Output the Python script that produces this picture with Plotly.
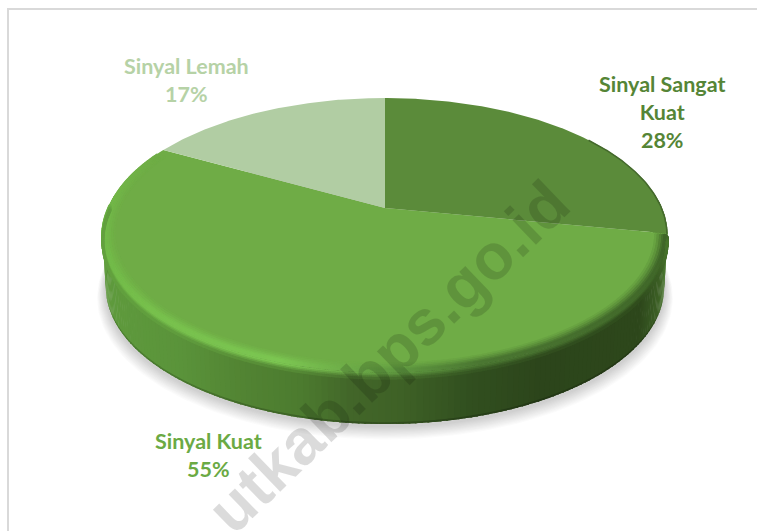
import numpy as np
import plotly.graph_objects as go

# ---- data ----
categories = ["Sinyal Sangat Kuat", "Sinyal Kuat", "Sinyal Lemah"]
values = [28, 55, 17]
slice_colors = ["#5B8B3A", "#6FAC46", "#B1CDA3"]
label_colors = ["#558536", "#6BAA44", "#B6D2A6"]
label_text = ["Sinyal Sangat<br>Kuat<br>28%", "Sinyal Kuat<br>55%", "Sinyal Lemah<br>17%"]
label_x = [662, 208, 186]
label_y = [112, 455, 80]
watermark = "utkab.bps.go.id"

# ---- perspective disc model (axes are in picture units) ----
CX, CY, AX, K, P, DEPTH = 385.0, 208.0, 277.0, 131.7, 0.197, 52.0


def project(theta_deg, r=1.0, z=0.0):
    t = np.radians(theta_deg)
    u, v = r * np.sin(t), r * np.cos(t)
    d = 1 + P * v
    x = CX + (1 - 0.012 * z) * AX * u / d
    y = CY - K * v / d + DEPTH * z
    return x, y


def hex2rgb(h):
    return np.array([int(h[i:i + 2], 16) for i in (1, 3, 5)], float)


def ramp(x, xs, cols):
    arr = np.array([hex2rgb(c) for c in cols])
    return np.stack([np.interp(x, xs, arr[:, i]) for i in range(3)], axis=-1)


def css(rgb):
    return "rgb(%d,%d,%d)" % tuple(int(round(c)) for c in rgb)


rim_xs = [102, 180, 240, 300, 350, 400, 470, 540, 640, 660, 668]
rim_cs = ["#5F9B3D", "#5A933A", "#528433", "#4C7B2F", "#426629", "#3E6126",
          "#314F1F", "#2C451B", "#2D471B", "#3C5F25", "#4A7A2E"]
peak_xs = [102, 150, 280, 340, 400, 480, 668]
peak_cs = ["#72BA49", "#78C04D", "#7CC652", "#70B04A", "#5F9840", "#4B7732", "#41682A"]

fig = go.Figure()


def poly(x, y, color, line=None, opacity=1.0):
    fig.add_trace(go.Scatter(
        x=x, y=y, mode="lines", fill="toself", fillcolor=color, opacity=opacity,
        line=dict(color=line or color, width=1 if line else 0),
        hoverinfo="skip", showlegend=False))


# soft shadow under the disc
th = np.linspace(0, 360, 241)
for grow in range(12, 0, -1):
    sx, sy = project(th, 1.0 + grow * 0.0025, 1.0)
    poly(sx, sy + 2 + grow * 0.6, "rgba(90,90,90,0.022)")

# side wall, strip by strip with a horizontal gradient
edges = np.linspace(84, 276, 181)
for a, b in zip(edges[:-1], edges[1:]):
    ang = np.linspace(a, b + 0.3, 3)
    x0, y0 = project(ang, 1.0, 0.0)
    x1, y1 = project(ang[::-1], 1.0, 1.0)
    c = ramp(x0.mean(), rim_xs, rim_cs)
    poly(np.r_[x0, x1], np.r_[y0, y1], css(c))
    xl, yl = project(ang, 1.0, 0.965)
    poly(np.r_[xl, x1], np.r_[yl, y1], css(c * 0.8))

# the three top faces, from the values
total = sum(values)
start = 0.0
for val, col in zip(values, slice_colors):
    end = start + 360.0 * val / total
    ang = np.linspace(start, end, max(int(end - start) * 2, 8))
    x, y = project(ang)
    poly(np.r_[CX, x, CX], np.r_[CY, y, CY], col)
    start = end

# bevel between face and wall
face = hex2rgb(slice_colors[1])
layers = [(0.960, 0.0, 0.15), (0.968, 0.0, 0.35), (0.976, 0.0, 0.6), (0.984, 0.0, 0.85),
          (0.990, 0.0, 1.0), (0.995, 0.0, 1.0), (1.0, 0.03, 1.0), (1.0, 0.06, 0.75),
          (1.0, 0.09, 0.45), (1.0, 0.12, 0.2)]
ang_all = np.linspace(101.5, 296, 620)
bx, by, bc = [], [], []
for r, z, w in layers:
    ang = ang_all if z == 0 else ang_all[ang_all < 272]
    fade = np.clip((296 - ang) / 35, 0, 1)
    x, y = project(ang, r, z)
    pk = ramp(x, peak_xs, peak_cs)
    if z == 0:
        col = face + (pk - face) * (w * fade)[:, None]
    else:
        rim = ramp(x, rim_xs, rim_cs)
        col = rim + (pk - rim) * (w * fade)[:, None]
    bx.extend(x)
    by.extend(y)
    bc.extend(css(c) for c in col)
fig.add_trace(go.Scatter(x=bx, y=by, mode="markers", hoverinfo="skip", showlegend=False,
                         marker=dict(size=3, color=bc, line=dict(width=0))))

# darker rim on the right of the dark slice
ang = np.linspace(55, 101, 80)
ex, ey = project(ang, 0.998)
fig.add_trace(go.Scatter(x=ex, y=ey, mode="lines", hoverinfo="skip", showlegend=False,
                         line=dict(color="#44692C", width=1.5)))

annotations = [dict(x=x, y=y, text=t, showarrow=False, xanchor="center", yanchor="middle",
                    font=dict(family="Lato", size=21.5, color=c, weight="bold"))
               for x, y, t, c in zip(label_x, label_y, label_text, label_colors)]
annotations.append(dict(x=388, y=357, text=watermark, showarrow=False, textangle=-44,
                        xanchor="center", yanchor="middle",
                        font=dict(family="Liberation Sans", size=64, color="rgba(0,0,0,0.14)",
                                  weight="bold")))

fig.update_layout(
    width=757, height=531, margin=dict(l=0, r=0, t=0, b=0),
    paper_bgcolor="white", plot_bgcolor="white", showlegend=False,
    xaxis=dict(range=[0, 757], visible=False, fixedrange=True),
    yaxis=dict(range=[531, 0], visible=False, fixedrange=True),
    annotations=annotations,
    shapes=[dict(type="rect", xref="x", yref="y", x0=8, y0=9, x1=780, y1=560,
                 line=dict(color="#D9D9D9", width=2), layer="below")],
)
fig.write_html("out.html", config={"displayModeBar": False},
               post_script="document.body.style.margin='0';document.body.style.overflow='hidden';")
